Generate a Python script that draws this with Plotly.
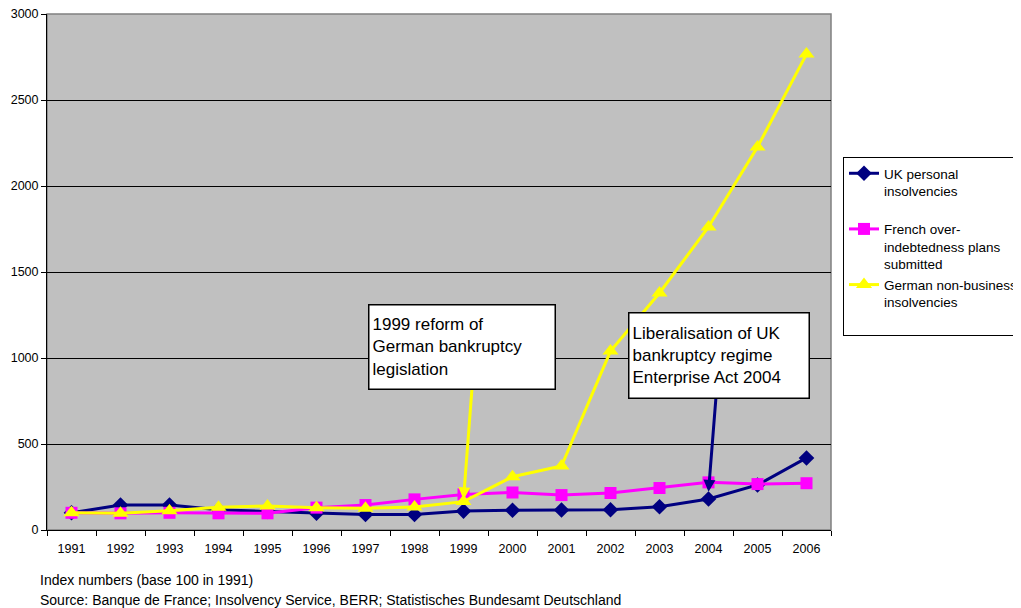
import plotly.graph_objects as go

years = [str(y) for y in range(1991, 2007)]
uk = [100, 145, 145, 118, 108, 97, 90, 90, 110, 115, 116, 118, 135, 180, 262, 419]
fr = [100, 97, 100, 97, 97, 130, 145, 178, 207, 218, 203, 215, 244, 277, 267, 272]
de = [100, 97, 112, 132, 140, 130, 126, 134, 165, 310, 372, 1040, 1378, 1762, 2227, 2767]

names = ["UK personal<br>insolvencies<br> ",
         "French over-<br>indebtedness plans<br>submitted",
         "German non-business<br>insolvencies<br> "]

# page body has an 8px margin; work in reference-pixel coords and shift
OFF = 8
W, H = 1021 - OFF, 608 - OFF
L, R, T, B = 47 - OFF, 831 - OFF, 14 - OFF, 530 - OFF
pw, ph = R - L, B - T

def px(x):
    return (x - OFF - L) / pw

def py(y):
    return (B - (y - OFF)) / ph

fig = go.Figure()
fig.add_trace(go.Scatter(x=years, y=uk, name=names[0], mode="lines+markers", legendgroup="a",
                         line=dict(color="#000080", width=3),
                         marker=dict(symbol="diamond", size=12, color="#000080")))
fig.add_trace(go.Scatter(x=years, y=fr, name=names[1], mode="lines+markers", legendgroup="b",
                         line=dict(color="#FF00FF", width=3),
                         marker=dict(symbol="square", size=12, color="#FF00FF")))
fig.add_trace(go.Scatter(x=years, y=de, name=names[2], mode="lines+markers", legendgroup="c",
                         line=dict(color="#FFFF00", width=3),
                         marker=dict(symbol="triangle-up", size=14, color="#FFFF00")))

font = "Liberation Sans, Arial, sans-serif"

i1999 = years.index("1999")
i2004 = years.index("2004")

annotations = [
    # arrows
    dict(x=i1999, y=178, xref="x", yref="y", ax=8.5, ay=-111, text="",
         showarrow=True, arrowhead=2, arrowsize=0.8, arrowwidth=3, arrowcolor="#FFFF00"),
    dict(x=i2004, y=222, xref="x", yref="y", ax=7.5, ay=-95, text="",
         showarrow=True, arrowhead=2, arrowsize=0.8, arrowwidth=3, arrowcolor="#000080"),
    # text boxes
    dict(x=px(368), y=py(304), xref="paper", yref="paper", xanchor="left", yanchor="top",
         text="1999 reform of<br>German bankruptcy<br>legislation", showarrow=False,
         align="left", valign="middle", bgcolor="white", bordercolor="black", borderwidth=1.5,
         borderpad=3, width=179, height=77, font=dict(family=font, size=17, color="black")),
    dict(x=px(628), y=py(312), xref="paper", yref="paper", xanchor="left", yanchor="top",
         text="Liberalisation of UK<br>bankruptcy regime<br>Enterprise Act 2004", showarrow=False,
         align="left", valign="middle", bgcolor="white", bordercolor="black", borderwidth=1.5,
         borderpad=3, width=173, height=78, font=dict(family=font, size=17, color="black")),
    # footer
    dict(x=px(38), y=py(580), xref="paper", yref="paper", xanchor="left", yanchor="middle",
         text="Index numbers (base 100 in 1991)", showarrow=False,
         font=dict(family=font, size=14, color="black")),
    dict(x=px(38), y=py(600), xref="paper", yref="paper", xanchor="left", yanchor="middle",
         text="Source: Banque de France; Insolvency Service, BERR; Statistisches Bundesamt Deutschland",
         showarrow=False, font=dict(family=font, size=14, color="black")),
]

fig.update_layout(
    width=W, height=H,
    margin=dict(l=L, r=W - R, t=T, b=H - B, autoexpand=False),
    paper_bgcolor="white", plot_bgcolor="#C0C0C0",
    font=dict(family=font, size=12.5, color="black"),
    showlegend=True,
    legend=dict(x=px(843), y=py(157), xanchor="left", yanchor="top",
                bgcolor="white", bordercolor="black", borderwidth=1,
                font=dict(family=font, size=13.5, color="black"),
                valign="top", itemwidth=30, tracegroupgap=0),
    annotations=annotations,
    shapes=[dict(type="rect", xref="paper", yref="paper", x0=0, x1=1, y0=0, y1=1,
                 line=dict(color="#808080", width=1.5), layer="below")],
)

fig.update_xaxes(type="category", range=[-0.5, 15.5], tickson="boundaries",
                 ticks="outside", ticklen=5, tickcolor="black", showgrid=False,
                 showline=True, linecolor="black", linewidth=1, ticklabelstandoff=7,
                 tickfont=dict(family=font, size=12.5, color="black"))
fig.update_yaxes(range=[0, 3000], dtick=500, ticks="outside", ticklen=5, tickcolor="black",
                 showgrid=True, gridcolor="black", gridwidth=1, zeroline=False,
                 showline=True, linecolor="black", linewidth=1, ticklabeloverflow="allow",
                 tickfont=dict(family=font, size=12.5, color="black"))

fig.write_html("out.html")
